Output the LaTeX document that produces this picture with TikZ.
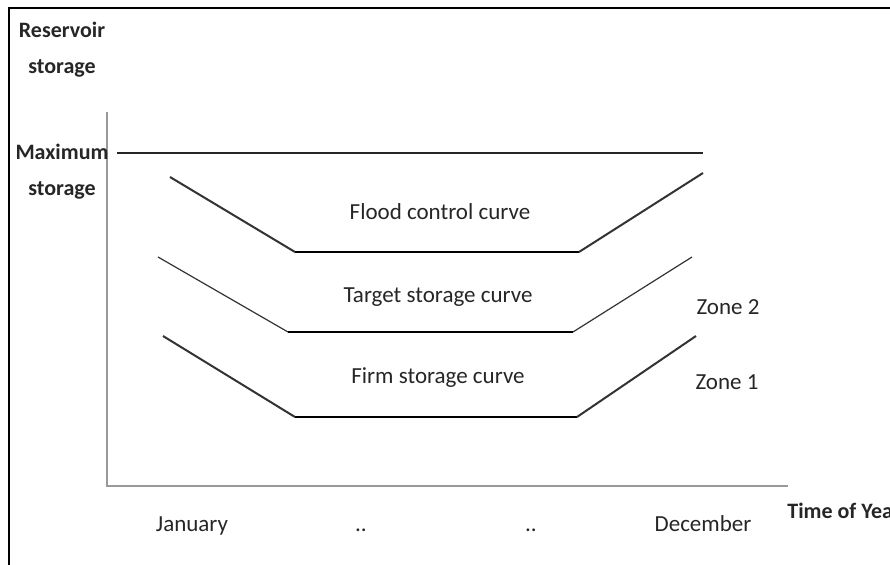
\documentclass[tikz,border=0pt]{standalone}
\usepackage{fontspec}
\setmainfont{Carlito}
\usetikzlibrary{positioning}
\tikzset{
  txt/.style={font=\fontsize{11.5}{18}\selectfont, text=black!85, inner sep=0pt},
  bold txt/.style={txt, font=\fontsize{11}{18}\selectfont\bfseries, align=center},
  side line/.style={draw=black!80, line width=1pt},
  thin side/.style={draw=black!80, line width=0.6pt},
  base line/.style={draw=black, line width=1.4pt},
  axis line/.style={draw=black!40, line width=0.7pt},
}
% one rule curve: left end, two corners, right end
\newcommand{\rulecurve}[5]{%
  \path[#5] (#1) -- (#2);
  \path[base line] (#2) -- (#3);
  \path[#5] (#3) -- (#4);}

\begin{document}
\begin{tikzpicture}[x=0.5pt, y=-0.5pt]
        \useasboundingbox (0,0) rectangle (890,565);
        % frame
        \draw[line width=1.2pt] (9,565) -- (9,8) -- (890,8);

        % axes
        \coordinate (o) at (107,486);
        \coordinate (ytop) at (107,112);
        \coordinate (xend) at (788,486);
        \path[axis line] (ytop) -- (o) -- (xend);

        % maximum storage
        \coordinate (m1) at (117,153);
        \coordinate (m2) at (703,153);
        \draw[line width=0.8pt, black!85] (m1) -- (m2);

        % flood control
        \coordinate (f1) at (170,177);
        \coordinate (f2) at (295,252);
        \coordinate (f3) at (579,252);
        \coordinate (f4) at (703,173);
        % target storage
        \coordinate (t1) at (158,257);
        \coordinate (t2) at (288,332);
        \coordinate (t3) at (573,332);
        \coordinate (t4) at (692,257);
        % firm storage
        \coordinate (s1) at (163,336);
        \coordinate (s2) at (295,417);
        \coordinate (s3) at (577,417);
        \coordinate (s4) at (696,336);

        \rulecurve{f1}{f2}{f3}{f4}{side line}
        \rulecurve{t1}{t2}{t3}{t4}{thin side}
        \rulecurve{s1}{s2}{s3}{s4}{side line}

        % labels
        \node[bold txt] (ylabel) at (62,50) {Reservoir\\storage};
        \node[bold txt] (maxlabel) at (62,172) {Maximum\\storage};
        \node[txt] (flood) at (440,212) {Flood control curve};
        \node[txt] (target) at (438,297) {Target storage curve};
        \node[txt] (firm) at (438,378) {Firm storage curve};
        \node[txt] (zone2) at (728,307) {Zone 2};
        \node[txt] (zone1) at (727,382) {Zone 1};

        \node[txt, anchor=base] (jan) at (192,532) {January};
        \node[txt, anchor=base] (dots1) at (361,532) {..};
        \node[txt, anchor=base] (dots2) at (531,532) {..};
        \node[txt, anchor=base] (dec) at (703,532) {December};
        \node[bold txt, anchor=base west] (xlabel) at (787,519) {Time of Year};
    \end{tikzpicture}
\end{document}
